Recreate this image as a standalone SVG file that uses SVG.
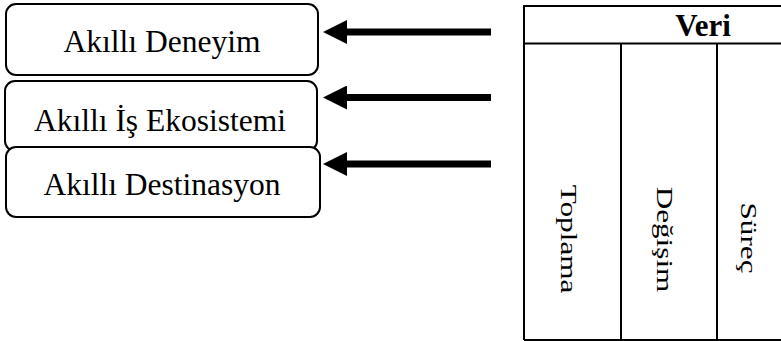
<svg xmlns="http://www.w3.org/2000/svg" width="781" height="341" viewBox="0 0 781 341">
<style>
.box{fill:#fff;stroke:#000;stroke-width:2}
.lbl{font-family:"Liberation Serif","Times New Roman",serif;font-size:31.5px;fill:#000;text-anchor:middle}
.vt{font-family:"Liberation Serif","Times New Roman",serif;font-size:24px;fill:#000;text-anchor:middle}
.hd{font-family:"Liberation Serif","Times New Roman",serif;font-size:31px;font-weight:bold;fill:#000;text-anchor:middle}
.tl{stroke:#000;stroke-width:2;fill:none}
.arr{stroke:#000;stroke-width:7;fill:none}
</style>
<defs>
<marker id="ah" viewBox="0 0 24 24" refX="1" refY="12" markerWidth="24" markerHeight="24" markerUnits="userSpaceOnUse" orient="auto">
<path d="M0,0 L24,12 L0,24 z" fill="#000"/>
</marker>
</defs>
<g id="n1">
<rect class="box" x="6" y="4" width="312" height="71" rx="10"/>
<text class="lbl" x="162" y="52">Akıllı Deneyim</text>
</g>
<g id="n2">
<rect class="box" x="5" y="81" width="312" height="70" rx="10"/>
<text class="lbl" x="160" y="131">Akıllı İş Ekosistemi</text>
</g>
<g id="n3">
<rect class="box" x="6" y="147" width="314" height="70" rx="10"/>
<text class="lbl" x="162" y="195">Akıllı Destinasyon</text>
</g>
<g id="table">
<path class="tl" d="M524,340 V6 H781 M524,43.5 H781 M621,43.5 V340 M717,43.5 V340 M524,340 H781"/>
<text class="hd" x="703" y="36">Veri</text>
<text class="vt" transform="translate(561,239) rotate(90) scale(1.3,1)">Toplama</text>
<text class="vt" transform="translate(657,239.5) rotate(90) scale(1.3,1)">Değişim</text>
<text class="vt" transform="translate(741,238) rotate(90) scale(1.3,1)">Süreç</text>
</g>
<g id="connectors">
<path class="arr" d="M491,32 H346" marker-end="url(#ah)"/>
<path class="arr" d="M491,97.5 H346" marker-end="url(#ah)"/>
<path class="arr" d="M491,164 H346" marker-end="url(#ah)"/>
</g>
</svg>
